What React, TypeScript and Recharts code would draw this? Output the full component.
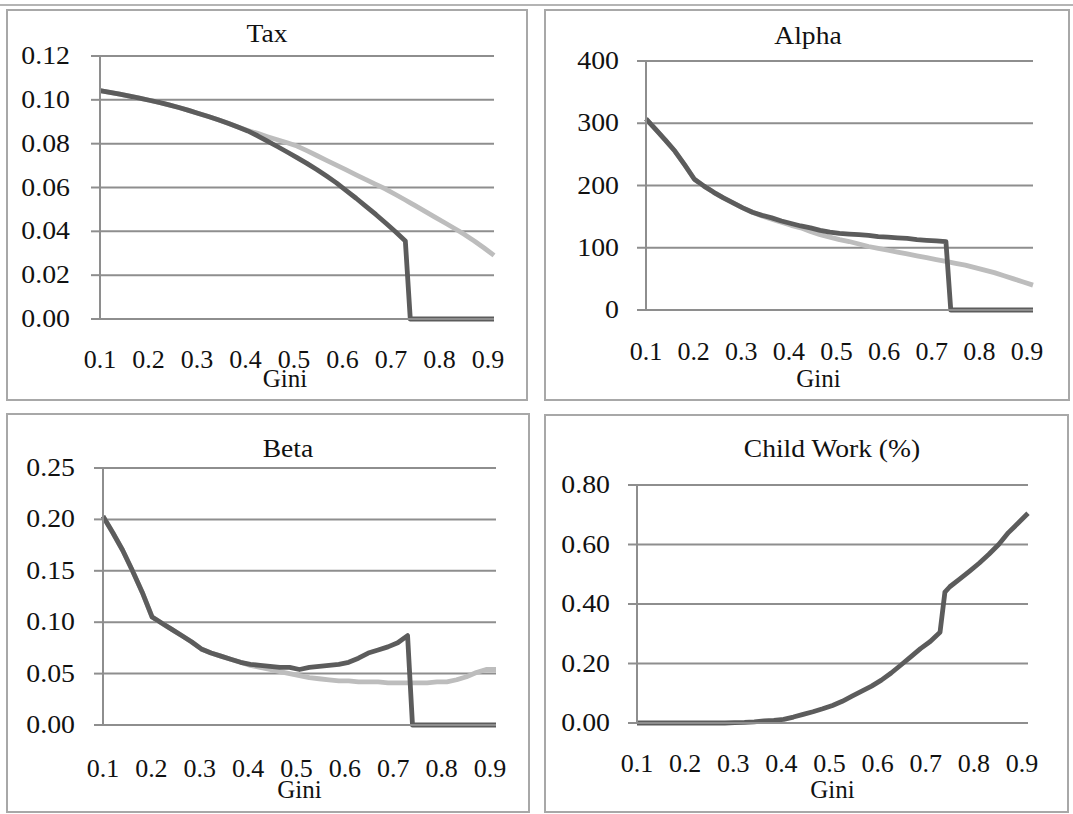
import React from "react";
import { LineChart, Line, XAxis, YAxis, CartesianGrid, Label } from "recharts";

// Gini coefficient (x axis), shared by all four panels
const gini = [
  0.1, 0.12, 0.14, 0.16, 0.18, 0.2, 0.22, 0.24, 0.26, 0.28,
  0.3, 0.32, 0.34, 0.36, 0.38, 0.4, 0.42, 0.44, 0.46, 0.48,
  0.5, 0.52, 0.54, 0.56, 0.58, 0.6, 0.62, 0.64, 0.66, 0.68,
  0.7, 0.72, 0.73, 0.74, 0.76, 0.78, 0.8, 0.82, 0.84, 0.86,
  0.88, 0.9,
];
const xTicks = [0.1, 0.2, 0.3, 0.4, 0.5, 0.6, 0.7, 0.8, 0.9];

// Tax
const taxDark = [
  0.1042, 0.1034, 0.1026, 0.1017, 0.1008, 0.0998, 0.0988, 0.0977, 0.0965, 0.0952,
  0.0938, 0.0924, 0.0909, 0.0893, 0.0876, 0.0858, 0.0836, 0.0812, 0.0787, 0.0762,
  0.0736, 0.071, 0.0682, 0.0652, 0.0621, 0.0586, 0.0551, 0.0514, 0.0477, 0.0438,
  0.0398, 0.0356, 0, 0, 0, 0, 0, 0, 0, 0,
  0, 0,
];
const taxLight = [
  0.1042, 0.1034, 0.1026, 0.1017, 0.1008, 0.0998, 0.0988, 0.0977, 0.0965, 0.0952,
  0.0938, 0.0924, 0.0909, 0.0893, 0.0876, 0.086, 0.0847, 0.0832, 0.0818, 0.0804,
  0.0789, 0.0768, 0.0746, 0.0724, 0.0702, 0.068, 0.0658, 0.0636, 0.0614, 0.0593,
  0.0568, 0.0543, 0.053, 0.0517, 0.0491, 0.0465, 0.0439, 0.0413, 0.0386, 0.0356,
  0.0324, 0.029,
];
const taxTicks = [0, 0.02, 0.04, 0.06, 0.08, 0.1, 0.12];

// Alpha
const alphaDark = [
  307, 290, 273, 255, 233, 210, 199, 189, 180, 172,
  164, 157, 152, 148, 143, 139, 135, 132, 128, 125,
  123, 122, 121, 120, 118, 117, 116, 115, 113, 112,
  111, 110, 0, 0, 0, 0, 0, 0, 0, 0,
  0, 0,
];
const alphaLight = [
  307, 290, 273, 255, 233, 210, 199, 189, 180, 172,
  164, 157, 151, 146, 141, 136, 132, 126, 121, 117,
  113, 110, 106, 102, 99, 96, 93, 90, 87, 84,
  81, 78, 76.5, 75, 72, 68, 64, 60, 55, 50,
  45, 40,
];
const alphaTicks = [0, 100, 200, 300, 400];

// Beta
const betaDark = [
  0.203, 0.187, 0.17, 0.15, 0.129, 0.105, 0.099, 0.093, 0.087, 0.081,
  0.074, 0.07, 0.067, 0.064, 0.061, 0.059, 0.058, 0.057, 0.056, 0.056,
  0.054, 0.056, 0.057, 0.058, 0.059, 0.061, 0.065, 0.07, 0.073, 0.076,
  0.08, 0.087, 0, 0, 0, 0, 0, 0, 0, 0,
  0, 0,
];
const betaLight = [
  0.203, 0.187, 0.17, 0.15, 0.129, 0.105, 0.099, 0.093, 0.087, 0.081,
  0.074, 0.07, 0.067, 0.064, 0.061, 0.058, 0.056, 0.054, 0.052, 0.05,
  0.048, 0.046, 0.045, 0.044, 0.043, 0.043, 0.042, 0.042, 0.042, 0.041,
  0.041, 0.041, 0.041, 0.041, 0.041, 0.042, 0.042, 0.044, 0.047, 0.051,
  0.054, 0.054,
];
const betaTicks = [0, 0.05, 0.1, 0.15, 0.2, 0.25];

// Child work (%)
const childDark = [
  0, 0, 0, 0, 0, 0, 0, 0, 0, 0,
  0.001, 0.002, 0.004, 0.007, 0.009, 0.012, 0.02, 0.029, 0.038, 0.048,
  0.059, 0.073, 0.09, 0.107, 0.124, 0.144, 0.168, 0.195, 0.222, 0.25,
  0.274, 0.305, 0.44, 0.458, 0.484, 0.51, 0.537, 0.567, 0.6, 0.64,
  0.672, 0.705,
];
const childTicks = [0, 0.2, 0.4, 0.6, 0.8];

const FONT = '"Liberation Serif", "Times New Roman", serif';
const GRID = "#8e8e8e";
const BORDER = "#a8a8a8";
const DARK = "#5c5c5c";
const LIGHT = "#bdbdbd";
const INK = "#111";

interface PanelProps {
  title: string;
  box: { left: number; top: number; width: number; height: number };
  plot: { left: number; top: number; right: number; bottom: number };
  yTicks: number[];
  digits: number;
  dark: number[];
  light?: number[];
  yTickMargin: number;
  titleX: number;
  titleBase: number;
  xLabelDy: number;
  giniDx: number;
  giniDy: number;
}

function Panel(p: PanelProps) {
  const innerLeft = p.box.left + 2;
  const innerTop = p.box.top + 2;
  const innerW = p.box.width - 4;
  const innerH = p.box.height - 4;
  const rows = gini.map((g, i) => ({
    g,
    dark: p.dark[i],
    light: p.light ? p.light[i] : undefined,
  }));

  // the source picture is a bit stretched sideways, so texts get a small scaleX
  const yTick = (t: any) => (
    <text
      transform={`translate(${t.x},${t.y + 8}) scale(1.07,1)`}
      textAnchor="end"
      fontFamily={FONT}
      fontSize={26}
      fill={INK}
    >
      {Number(t.payload.value).toFixed(p.digits)}
    </text>
  );
  const xTick = (t: any) => {
    const v = Number(t.payload.value);
    const shift = (-6 * (v - 0.1)) / 0.8;
    return (
      <text
        transform={`translate(${t.x + shift},${t.y + p.xLabelDy}) scale(1.04,1)`}
        textAnchor="middle"
        fontFamily={FONT}
        fontSize={25}
        fill={INK}
      >
        {v.toFixed(1)}
      </text>
    );
  };
  const giniLabel = (props: any) => {
    const vb = props.viewBox;
    return (
      <text
        x={vb.x + vb.width / 2 + p.giniDx}
        y={vb.y + p.giniDy}
        textAnchor="middle"
        fontFamily={FONT}
        fontSize={25}
        fill={INK}
      >
        Gini
      </text>
    );
  };

  return (
    <div
      style={{
        position: "absolute",
        left: p.box.left,
        top: p.box.top,
        width: p.box.width,
        height: p.box.height,
        border: `2px solid ${BORDER}`,
        boxSizing: "border-box",
        background: "#fff",
      }}
    >
      <div
        style={{
          position: "absolute",
          left: p.titleX - innerLeft - 200,
          top: p.titleBase - innerTop - Math.round(0.8375 * 26),
          width: 400,
          textAlign: "center",
          fontFamily: FONT,
          fontSize: 26,
          lineHeight: "26px",
          color: INK,
          whiteSpace: "nowrap",
          transform: "scaleX(1.06)",
        }}
      >
        {p.title}
      </div>
      <div style={{ position: "absolute", left: 0, top: 0 }}>
        <LineChart
          width={innerW}
          height={innerH}
          data={rows}
          margin={{ top: p.plot.top - innerTop, right: innerLeft + innerW - p.plot.right, left: 0, bottom: 0 }}
        >
          <CartesianGrid vertical={false} stroke={GRID} strokeWidth={2} />
          <XAxis
            dataKey="g"
            type="number"
            domain={[0.1, 0.9]}
            ticks={xTicks}
            interval={0}
            tickSize={0}
            tickMargin={0}
            tickLine={false}
            axisLine={{ stroke: GRID, strokeWidth: 2 }}
            height={innerTop + innerH - p.plot.bottom}
            tick={xTick}
          >
            <Label content={giniLabel} />
          </XAxis>
          <YAxis
            type="number"
            domain={[0, p.yTicks[p.yTicks.length - 1]]}
            ticks={p.yTicks}
            interval={0}
            width={p.plot.left - innerLeft}
            tickSize={9}
            tickMargin={p.yTickMargin}
            tickLine={{ stroke: GRID, strokeWidth: 2 }}
            axisLine={{ stroke: GRID, strokeWidth: 2 }}
            tick={yTick}
          />
          {p.light && (
            <Line
              type="linear"
              dataKey="light"
              stroke={LIGHT}
              strokeWidth={4.8}
              dot={false}
              strokeLinejoin="round"
              isAnimationActive={false}
            />
          )}
          <Line
            type="linear"
            dataKey="dark"
            stroke={DARK}
            strokeWidth={4.8}
            dot={false}
            strokeLinejoin="round"
            isAnimationActive={false}
          />
        </LineChart>
      </div>
    </div>
  );
}

export default function App() {
  return (
    <div style={{ position: "absolute", left: 0, top: 0, width: 1073, height: 814, background: "#fff" }}>
      <div style={{ position: "absolute", left: 0, top: 4, width: 1073, height: 2, background: "#b4b4b4" }} />
      <Panel
        title="Tax"
        box={{ left: 6, top: 9, width: 522, height: 392 }}
        plot={{ left: 100, top: 56, right: 494, bottom: 319 }}
        yTicks={taxTicks}
        digits={2}
        dark={taxDark}
        light={taxLight}
        yTickMargin={21}
        titleX={267}
        titleBase={43}
        xLabelDy={49}
        giniDx={-12}
        giniDy={68}
      />
      <Panel
        title="Alpha"
        box={{ left: 544, top: 9, width: 526, height: 392 }}
        plot={{ left: 646, top: 61, right: 1033, bottom: 310 }}
        yTicks={alphaTicks}
        digits={0}
        dark={alphaDark}
        light={alphaLight}
        yTickMargin={18}
        titleX={808}
        titleBase={45}
        xLabelDy={50}
        giniDx={-21}
        giniDy={77}
      />
      <Panel
        title="Beta"
        box={{ left: 6, top: 413, width: 524, height: 400 }}
        plot={{ left: 103, top: 468, right: 496, bottom: 725 }}
        yTicks={betaTicks}
        digits={2}
        dark={betaDark}
        light={betaLight}
        yTickMargin={19}
        titleX={288}
        titleBase={458}
        xLabelDy={52}
        giniDx={0}
        giniDy={73}
      />
      <Panel
        title="Child Work (%)"
        box={{ left: 544, top: 414, width: 525, height: 399 }}
        plot={{ left: 637, top: 485, right: 1028, bottom: 723 }}
        yTicks={childTicks}
        digits={2}
        dark={childDark}
        yTickMargin={18}
        titleX={832}
        titleBase={458}
        xLabelDy={49}
        giniDx={0}
        giniDy={75}
      />
    </div>
  );
}
